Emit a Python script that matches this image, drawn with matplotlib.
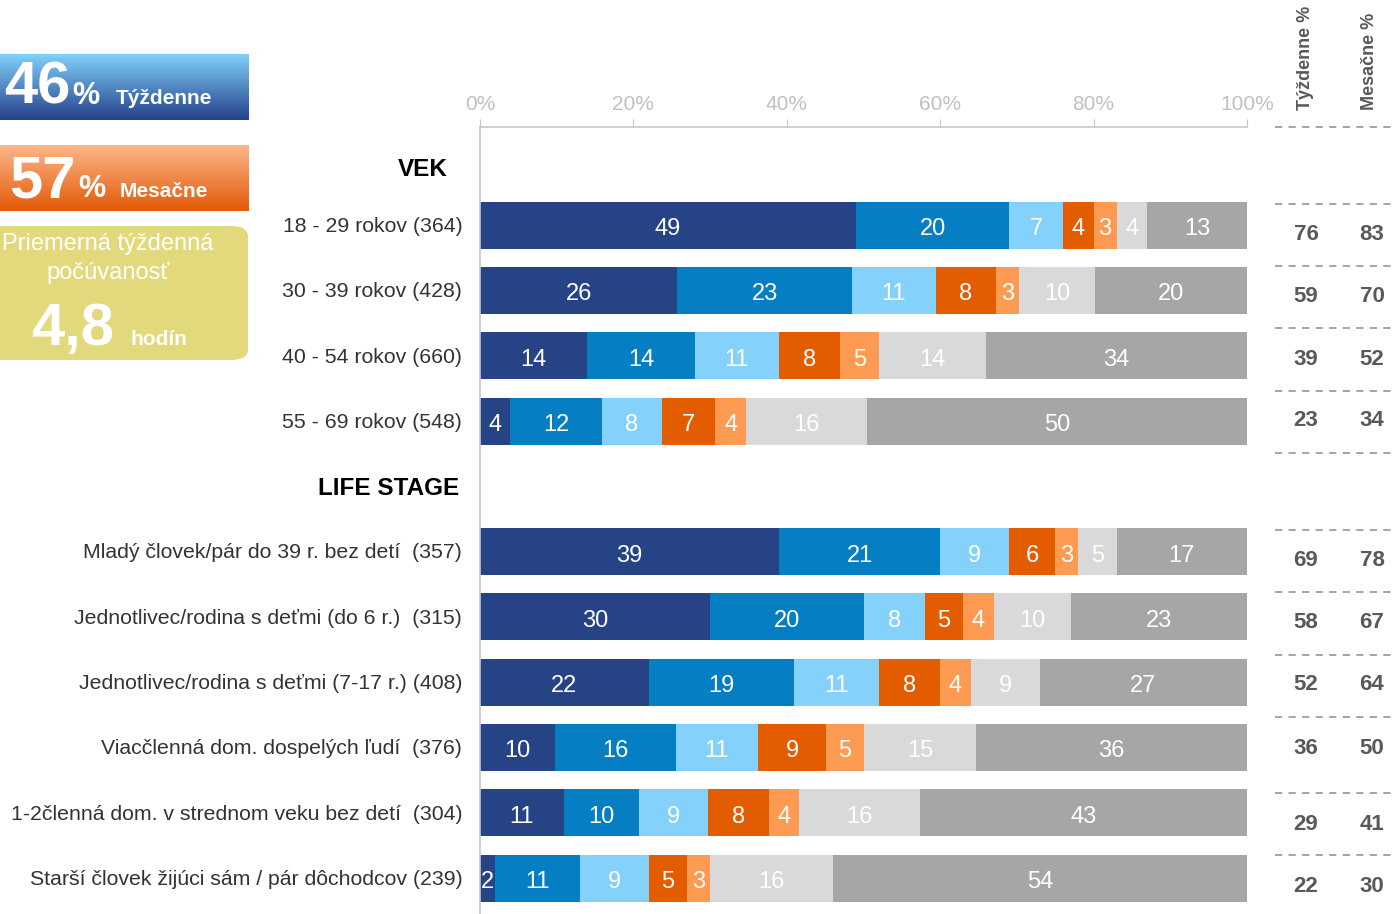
import numpy as np
import matplotlib
matplotlib.use("Agg")
import matplotlib.pyplot as plt
from matplotlib.colors import LinearSegmentedColormap
from matplotlib.patches import FancyBboxPatch

plt.rcParams['font.family'] = ['Liberation Sans', 'DejaVu Sans']

# ---- data ----
group_names = ["VEK", "LIFE STAGE"]
age_labels = ["18 - 29 rokov (364)", "30 - 39 rokov (428)",
              "40 - 54 rokov (660)", "55 - 69 rokov (548)"]
age_values = [[49, 20, 7, 4, 3, 4, 13],
              [26, 23, 11, 8, 3, 10, 20],
              [14, 14, 11, 8, 5, 14, 34],
              [4, 12, 8, 7, 4, 16, 50]]
age_weekly = [76, 59, 39, 23]
age_monthly = [83, 70, 52, 34]

life_labels = ["Mladý človek/pár do 39 r. bez detí  (357)",
               "Jednotlivec/rodina s deťmi (do 6 r.)  (315)",
               "Jednotlivec/rodina s deťmi (7-17 r.) (408)",
               "Viacčlenná dom. dospelých ľudí  (376)",
               "1-2členná dom. v strednom veku bez detí  (304)",
               "Starší človek žijúci sám / pár dôchodcov (239)"]
life_values = [[39, 21, 9, 6, 3, 5, 17],
               [30, 20, 8, 5, 4, 10, 23],
               [22, 19, 11, 8, 4, 9, 27],
               [10, 16, 11, 9, 5, 15, 36],
               [11, 10, 9, 8, 4, 16, 43],
               [2, 11, 9, 5, 3, 16, 54]]
life_weekly = [69, 58, 52, 36, 29, 22]
life_monthly = [78, 67, 64, 50, 41, 30]

seg_colors = ['#264385', '#057ec3', '#84d2fc', '#e45c00', '#fe9b53', '#d9d9d9', '#a6a6a6']
x_ticks = [0, 20, 40, 60, 80, 100]

# right-hand table layout (pixel rows of the summary table)
tab_lines = [127, 204, 266, 328, 391, 453, 530, 592, 655, 717, 793, 855]
tab_rows = [234, 297, 359, 421, 560, 623, 685, 748, 824, 886]

W, H = 1394, 914
fig = plt.figure(figsize=(W / 100, H / 100), dpi=100)


def fx(x):
    return x / W


def fy(y):
    return 1 - y / H


## main bar axes
ax = fig.add_axes([fx(480), 0, 767 / W, fy(127)])
ax.set_xlim(0, 100)
ax.set_ylim(11.55, -0.505)

groups = [(group_names[0], age_labels, age_values),
          (group_names[1], life_labels, life_values)]
narrow = ['Liberation Sans Narrow', 'Liberation Sans']
header_x = [-4.2, -2.7]
header_dy = [0.15, 0.03]

pos = 0
for gi, (gname, labels, values) in enumerate(groups):
    ax.text(header_x[gi], pos + header_dy[gi], gname, ha='right', va='center',
            fontsize=17.5, fontweight='bold', color='black')
    pos += 1
    for lab, vals in zip(labels, values):
        vals = np.array(vals, dtype=float)
        shares = vals / vals.sum() * 100
        left = 0
        for v, s, c in zip(vals, shares, seg_colors):
            ax.barh(pos, s, left=left, height=0.72, color=c, edgecolor='none')
            ax.text(left + s / 2, pos + 0.06, f"{int(v)}", ha='center', va='center',
                    color='white', fontsize=17, family=narrow)
            left += s
        ax.text(-2.3, pos + 0.02, lab, ha='right', va='center', fontsize=15.3,
                color='#333333')
        pos += 1

ax.xaxis.tick_top()
ax.set_xticks(x_ticks)
ax.set_xticklabels([f"{t}%" for t in x_ticks], family=narrow, fontsize=15, color='#c0c0c0')
ax.tick_params(axis='x', direction='out', length=6, color='#c8c8c8', pad=3)
ax.set_yticks([])
for sp in ['right', 'bottom']:
    ax.spines[sp].set_visible(False)
for sp in ['top', 'left']:
    ax.spines[sp].set_color('#c8c8c8')
    ax.spines[sp].set_linewidth(1.2)

## right summary table
for yl in tab_lines:
    fig.add_artist(plt.Line2D([fx(1275), fx(1394)], [fy(yl), fy(yl)], color='#a09c9c',
                              lw=1.3, ls=(0, (4, 3.5)), transform=fig.transFigure))
for yr, wk, mo in zip(tab_rows, age_weekly + life_weekly, age_monthly + life_monthly):
    fig.text(fx(1306), fy(yr), str(wk), ha='center', va='center', fontsize=16,
             fontweight='bold', color='#595959')
    fig.text(fx(1372), fy(yr), str(mo), ha='center', va='center', fontsize=16,
             fontweight='bold', color='#595959')

fig.text(fx(1306), fy(110), "Týždenne %", rotation=90, ha='center', va='bottom',
         fontsize=13, fontweight='bold', color='#595959')
fig.text(fx(1369), fy(110), "Mesačne %", rotation=90, ha='center', va='bottom',
         fontsize=13, fontweight='bold', color='#595959')


## left info boxes
def grad_box(x0, y0, x1, y1, top, bottom):
    bax = fig.add_axes([fx(x0), fy(y1), (x1 - x0) / W, (y1 - y0) / H])
    cmap = LinearSegmentedColormap.from_list('g', [top, bottom])
    bax.imshow(np.linspace(0, 1, 100).reshape(-1, 1), cmap=cmap, aspect='auto',
               extent=[0, 1, 0, 1])
    bax.axis('off')


grad_box(0, 54, 249, 120, '#80d0fa', '#25418a')
grad_box(0, 145, 249, 211, '#fdb88c', '#e35a08')
fig.patches.append(FancyBboxPatch((fx(-12), fy(360)), fx(260), 134 / H,
                                  boxstyle="round,pad=0,rounding_size=0.012",
                                  transform=fig.transFigure, facecolor='#e2d97c',
                                  edgecolor='none'))

bold_white = dict(color='white', fontweight='bold', va='baseline')
fig.text(fx(4), fy(104), "46", fontsize=43, **bold_white)
fig.text(fx(72), fy(104), "%", fontsize=22, **bold_white)
fig.text(fx(116), fy(104), "Týždenne", fontsize=15, **bold_white)
fig.text(fx(9), fy(197), "57", fontsize=43, **bold_white)
fig.text(fx(78), fy(197), "%", fontsize=22, **bold_white)
fig.text(fx(120), fy(197), "Mesačne", fontsize=15, **bold_white)
fig.text(fx(108), fy(244), "Priemerná týždenná", fontsize=17, color='white',
         ha='center', va='center')
fig.text(fx(108), fy(273), "počúvanosť", fontsize=17, color='white',
         ha='center', va='center')
fig.text(fx(31), fy(345), "4,8", fontsize=43, **bold_white)
fig.text(fx(130), fy(345), "hodín", fontsize=15, **bold_white)

fig.savefig('out.png', dpi=100)
